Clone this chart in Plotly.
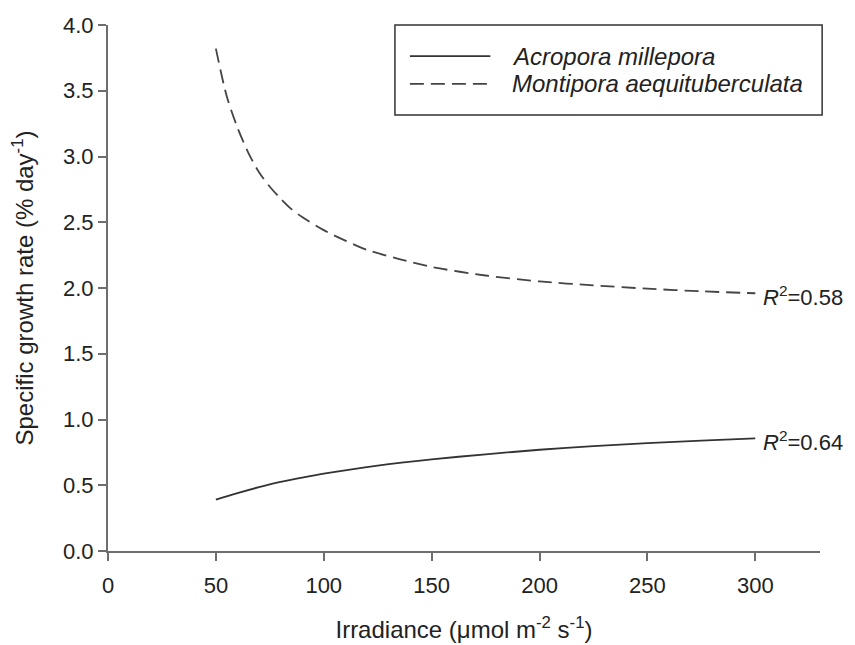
import plotly.graph_objects as go

# Data
acro_x = [50, 60, 70, 80, 90, 100, 125, 150, 175, 200, 225, 250, 275, 300]
acro_y = [0.39, 0.44, 0.485, 0.525, 0.558, 0.588, 0.65, 0.697, 0.735, 0.77, 0.797, 0.82, 0.84, 0.857]

monti_x = [50, 55, 60, 65, 70, 75, 80, 85, 90, 100, 110, 120, 135, 150, 175, 200, 225, 250, 275, 300]
monti_y = [3.82, 3.46, 3.22, 3.03, 2.88, 2.77, 2.68, 2.60, 2.54, 2.44, 2.36, 2.29, 2.22, 2.16,
           2.095, 2.05, 2.02, 1.995, 1.975, 1.96]

series_names = ["Acropora millepora", "Montipora aequituberculata"]
r2_labels = ["<i>R</i><sup>2</sup>=0.64", "<i>R</i><sup>2</sup>=0.58"]

x_ticks = [0, 50, 100, 150, 200, 250, 300]
y_ticks = [0.0, 0.5, 1.0, 1.5, 2.0, 2.5, 3.0, 3.5, 4.0]

FONT = "Liberation Sans, Arial, sans-serif"
TXT = "#222222"
AX = "#6e6e6e"
SOLID = dict(color="#333333", width=1.8)
DASHED = dict(color="#444444", width=1.8, dash="14px,7px")

fig = go.Figure()
fig.add_trace(go.Scatter(x=acro_x, y=acro_y, mode="lines", name=series_names[0],
                         line=dict(**SOLID, shape="spline", smoothing=0.8), showlegend=False))
fig.add_trace(go.Scatter(x=monti_x, y=monti_y, mode="lines", name=series_names[1],
                         line=dict(**DASHED, shape="spline", smoothing=0.8), showlegend=False))

# R^2 labels at the end of each curve
for xs, ys, lab in [(acro_x, acro_y, r2_labels[0]), (monti_x, monti_y, r2_labels[1])]:
    fig.add_annotation(x=xs[-1], y=ys[-1], text=lab, showarrow=False,
                       xanchor="left", yanchor="middle", xshift=6, yshift=-3,
                       font=dict(family=FONT, size=22, color=TXT))

# Legend box drawn in paper coordinates
fig.add_shape(type="rect", xref="paper", yref="paper", x0=0.403, x1=1.003, y0=0.829, y1=1.0,
              line=dict(color="#333333", width=1.5), fillcolor="white", layer="above")
for yy, ln, name in [(0.941, SOLID, series_names[0]), (0.888, DASHED, series_names[1])]:
    fig.add_shape(type="line", xref="paper", yref="paper", x0=0.424, x1=0.537, y0=yy, y1=yy,
                  line=ln, layer="above")
    fig.add_annotation(xref="paper", yref="paper", x=0.565, y=yy, text=f"<i>{name}</i>",
                       showarrow=False, xanchor="left", yanchor="middle",
                       font=dict(family=FONT, size=24, color=TXT))

# page adds an 8px body margin, so the figure is 8px smaller than the window
fig.update_layout(
    width=847, height=637,
    margin=dict(l=100, r=35, t=17, b=94),
    paper_bgcolor="white", plot_bgcolor="white",
    font=dict(family=FONT, color=TXT),
    showlegend=False,
    xaxis=dict(range=[0, 330], tickvals=x_ticks, ticktext=[str(v) for v in x_ticks],
               showgrid=False, zeroline=False, showline=True, linecolor=AX, linewidth=2,
               ticks="outside", ticklen=8, tickwidth=1.5, tickcolor=AX, automargin=False,
               ticklabelstandoff=6,
               tickfont=dict(family=FONT, size=22, color=TXT),
               title=dict(text="Irradiance (μmol m<sup>-2</sup> s<sup>-1</sup>)",
                          font=dict(family=FONT, size=24, color=TXT), standoff=24)),
    yaxis=dict(range=[0, 4.0], tickvals=y_ticks, ticktext=[f"{v:.1f}" for v in y_ticks],
               showgrid=False, zeroline=False, showline=True, linecolor=AX, linewidth=2,
               ticks="outside", ticklen=8, tickwidth=1.5, tickcolor=AX, automargin=False,
               tickfont=dict(family=FONT, size=22, color=TXT),
               title=dict(text="Specific growth rate (% day<sup>-1</sup>)",
                          font=dict(family=FONT, size=24, color=TXT), standoff=24)),
)

fig.write_html("out.html")
